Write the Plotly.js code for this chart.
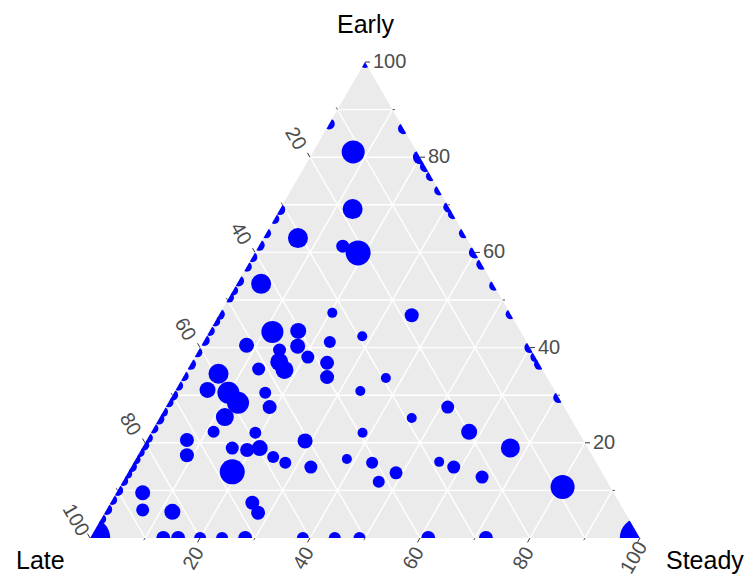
<!DOCTYPE html>
<html>
<head>
<meta charset="utf-8">
<script src="https://cdn.plot.ly/plotly-3.0.1.min.js"></script>
<style>html,body{margin:0;padding:0;background:#ffffff;}</style>
</head>
<body>
<div id="chart" style="width:747px;height:576px;"></div>
<script>
// ---- data (percent) ----
const early = [
  81.1, 69.1, 63.0, 61.3, 59.9, 53.4, 47.3, 46.8, 43.3, 43.5,
  42.4, 41.2, 40.5, 40.3, 38.0, 39.5, 37.0, 35.3, 35.5, 36.8,
  33.8, 33.6, 34.5, 31.1, 30.5, 28.4, 25.4, 30.5, 27.5, 30.9,
  27.5, 25.2, 22.1, 22.3, 18.9, 22.3, 20.6, 17.4, 22.1, 18.9,
  18.5, 17.0, 15.8, 18.9, 13.9, 20.4, 14.9, 16.6, 15.8, 11.8,
  13.7, 16.0, 14.9, 12.8, 10.7, 9.5, 5.9, 5.5, 7.4, 5.3,
  // Late = 0 edge
  100, 86, 80, 78, 76, 73, 69.5, 68, 64, 60, 57.5, 53, 47, 40, 38, 36.5, 29.5,
  // Steady = 0 edge
  87, 69, 67, 64, 61.5, 59, 57, 54, 52, 50.5, 47, 45.5, 43.5, 41.5, 39, 36.5, 34,
  32, 30, 28.5, 26.5, 25, 23, 21, 19.5, 18, 16.5, 15, 13.5, 12, 10, 8, 6, 4,
  // Early = 0 edge
  0, 0, 0, 0, 0, 0, 0, 0, 0, 0, 0, 0
];
const late = [
  11.6, 17.7, 30.7, 23.4, 21.3, 42.2, 32.3, 18.1, 45.2, 40.4,
  29.3, 35.8, 51.3, 42.1, 41.4, 45.8, 47.1, 47.0, 51.6, 38.5,
  40.0, 29.4, 59.4, 63.1, 59.6, 58.9, 62.8, 52.9, 53.6, 35.4,
  21.2, 28.9, 39.4, 19.9, 14.1, 66.4, 72.1, 73.7, 58.9, 59.7,
  62.2, 58.2, 56.6, 64.7, 67.2, 50.7, 52.4, 45.0, 40.8, 41.6,
  37.5, 28.5, 26.4, 22.3, 8.7, 85.7, 87.5, 82.3, 66.8, 66.8,
  0, 0, 0, 0, 0, 0, 0, 0, 0, 0, 0, 0, 0, 0, 0, 0, 0,
  13, 31, 33, 36, 38.5, 41, 43, 46, 48, 49.5, 53, 54.5, 56.5, 58.5, 61, 63.5, 66,
  68, 70, 71.5, 73.5, 75, 77, 79, 80.5, 82, 83.5, 85, 86.5, 88, 90, 92, 94, 96,
  86.7, 84, 80, 76, 71.8, 61.3, 55.5, 51, 38.5, 28, 100, 0
];
const steady = [
  7.3, 13.2, 6.3, 15.3, 18.8, 4.4, 20.4, 35.1, 11.5, 16.1,
  28.3, 23.0, 8.2, 17.6, 20.6, 14.7, 15.9, 17.7, 12.9, 24.7,
  26.2, 37.0, 6.1, 5.8, 9.9, 12.7, 11.8, 16.6, 18.9, 33.7,
  51.3, 45.9, 38.5, 57.8, 67.0, 11.3, 7.3, 8.9, 19.0, 21.4,
  19.3, 24.8, 27.6, 16.4, 18.9, 28.9, 32.7, 38.4, 43.4, 46.6,
  48.8, 55.5, 58.7, 64.9, 80.6, 4.8, 6.6, 12.2, 25.8, 27.9,
  0, 14, 20, 22, 24, 27, 30.5, 32, 36, 40, 42.5, 47, 53, 60, 62, 63.5, 70.5,
  0, 0, 0, 0, 0, 0, 0, 0, 0, 0, 0, 0, 0, 0, 0, 0, 0,
  0, 0, 0, 0, 0, 0, 0, 0, 0, 0, 0, 0, 0, 0, 0, 0, 0,
  13.3, 16, 20, 24, 28.2, 38.7, 44.5, 49, 61.5, 72, 0, 100
];
const sizes = [
  23, 20, 20, 13, 25, 20, 10, 14, 22, 16,
  10, 12, 15, 15, 13, 13, 18, 18, 13, 14,
  14, 10, 20, 16, 22, 22, 18, 12, 14, 10,
  13, 10, 10, 16, 19, 12, 14, 14, 12, 16,
  14, 12, 12, 13, 25, 15, 13, 10, 12, 12,
  13, 10, 13, 13, 24, 15, 13, 16, 14, 14,
  12, 11, 14, 11, 10, 10, 11, 10, 10, 12, 11, 10, 10, 11, 10, 11, 11,
  11, 11, 10, 10, 11, 10, 10, 11, 10, 10, 11, 10, 10, 11, 10, 11, 10,
  10, 11, 10, 10, 11, 10, 10, 11, 10, 10, 11, 10, 10, 11, 10, 11, 10,
  14, 14, 12, 12, 14, 12, 12, 12, 14, 14, 40, 40
];

const tickValues = [20, 40, 60, 80, 100];
const minorTickValues = [10, 30, 50, 70, 90];
const tickText = ['20', '40', '60', '80', '100'];
const axisTitles = ['Early', 'Late', 'Steady'];

// ---- helpers: ternary point (percent) -> paper coords of the triangle ----
function toPaper(e, s) { return { x: (s + e / 2) / 100, y: e / 100 }; }

const annotations = [];
const shapes = [];
const labelFont = { family: 'Arial, "Liberation Sans", sans-serif', size: 20, color: '#4D4D4D' };
const titleFont = { family: 'Arial, "Liberation Sans", sans-serif', size: 25, color: '#000000' };

function tick(p, dx, dy, len, major) {
  shapes.push({
    type: 'line', xref: 'paper', yref: 'paper',
    xsizemode: 'pixel', ysizemode: 'pixel',
    xanchor: p.x, yanchor: p.y,
    x0: 0, y0: 0, x1: dx * len, y1: dy * len,
    line: { color: major ? '#333333' : '#555555', width: 1 }
  });
}

tickValues.forEach(function (v, i) {
  // Early axis: labels along right edge
  const pe = toPaper(v, 100 - v);
  tick(pe, 1, 0, 5, true);
  annotations.push({ xref: 'paper', yref: 'paper', x: pe.x, y: pe.y, text: tickText[i],
    showarrow: false, xanchor: 'left', yanchor: 'middle', xshift: 6, yshift: 1, font: labelFont });
  // Late axis: labels along left edge
  const pl = toPaper(100 - v, 0);
  tick(pl, -0.5, 0.866, 5, true);
  annotations.push({ xref: 'paper', yref: 'paper', x: pl.x, y: pl.y, text: tickText[i],
    showarrow: false, xanchor: 'center', yanchor: 'middle', xshift: -14, yshift: 19,
    textangle: 60, font: labelFont });
  // Steady axis: labels along bottom edge
  const ps = toPaper(0, v);
  tick(ps, -0.5, -0.866, 5, true);
  annotations.push({ xref: 'paper', yref: 'paper', x: ps.x, y: ps.y, text: tickText[i],
    showarrow: false, xanchor: 'center', yanchor: 'middle', xshift: -7, yshift: -20,
    textangle: -60, font: labelFont });
});
minorTickValues.forEach(function (v) {
  tick(toPaper(v, 100 - v), 1, 0, 2.5, false);
  tick(toPaper(100 - v, 0), -0.5, 0.866, 2.5, false);
  tick(toPaper(0, v), -0.5, -0.866, 2.5, false);
});

annotations.push({ xref: 'paper', yref: 'paper', x: 0.5, y: 1, yshift: 38, text: axisTitles[0],
  showarrow: false, xanchor: 'center', yanchor: 'middle', font: titleFont });
annotations.push({ xref: 'paper', yref: 'paper', x: 0, y: 0, xshift: -50, yshift: -22, text: axisTitles[1],
  showarrow: false, xanchor: 'center', yanchor: 'middle', font: titleFont });
annotations.push({ xref: 'paper', yref: 'paper', x: 1, y: 0, xshift: 65, yshift: -22, text: axisTitles[2],
  showarrow: false, xanchor: 'center', yanchor: 'middle', font: titleFont });

const axisStyle = {
  title: { text: '' }, showticklabels: false, ticks: '', showline: false,
  showgrid: true, gridcolor: '#FFFFFF', gridwidth: 1.4, tick0: 0, dtick: 10, min: 0
};

const trace = {
  type: 'scatterternary', mode: 'markers',
  a: early, b: late, c: steady,
  marker: { color: '#0000FF', size: sizes, opacity: 1, line: { width: 0 } },
  cliponaxis: true, showlegend: false, hoverinfo: 'a+b+c'
};

const layout = {
  width: 747, height: 576,
  margin: { l: 90, r: 107, t: 62, b: 38, pad: 0 },
  paper_bgcolor: '#FFFFFF',
  font: { family: 'Arial, "Liberation Sans", sans-serif' },
  showlegend: false,
  ternary: {
    sum: 100,
    bgcolor: '#EBEBEB',
    domain: { x: [0, 1], y: [0, 1] },
    aaxis: Object.assign({}, axisStyle),
    baxis: Object.assign({}, axisStyle),
    caxis: Object.assign({}, axisStyle)
  },
  annotations: annotations,
  shapes: shapes
};

Plotly.newPlot('chart', [trace], layout, { displayModeBar: false, staticPlot: true });
</script>
</body>
</html>
